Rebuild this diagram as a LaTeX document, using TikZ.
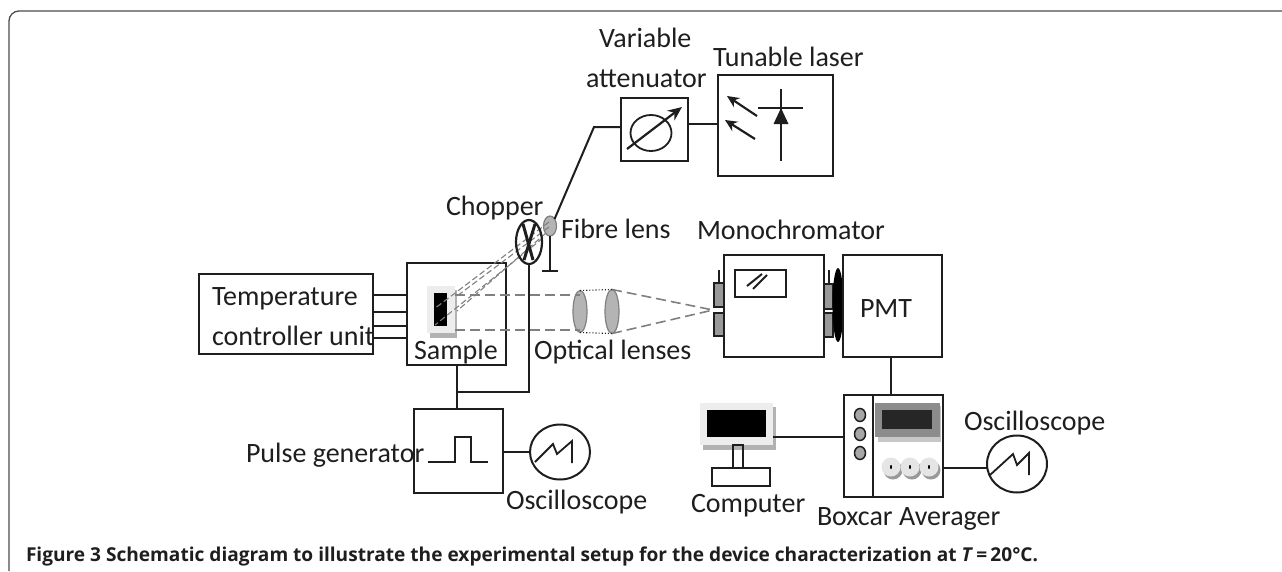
\documentclass[tikz,border=0pt]{standalone}
\usepackage{fontspec}
\setmainfont{Carlito}
\newfontfamily\capfont{Open Sans}
\usetikzlibrary{arrows.meta,shapes.geometric}
\definecolor{ink}{HTML}{1E1E1E}
\definecolor{lensgray}{HTML}{B4B4B4}
\definecolor{dashgray}{HTML}{808080}
\tikzset{
  box/.style={draw=ink,line width=2pt,inner sep=0pt,outer sep=0pt},
  wire/.style={draw=ink,line width=2pt},
  lbl/.style={inner sep=0pt,outer sep=0pt,anchor=base west,text=ink,font=\fontsize{28}{28}\selectfont},
  beam/.style={draw=dashgray,line width=1.6pt,dash pattern=on 10pt off 5pt},
  thinbeam/.style={draw=dashgray,line width=1.1pt,dash pattern=on 6pt off 3pt},
  lens/.style={ellipse,draw=dashgray,fill=lensgray,line width=1.2pt,inner sep=0pt,outer sep=0pt},
  scope circle/.style={ellipse,draw=ink,line width=2pt,inner sep=0pt,outer sep=0pt,minimum width=60pt,minimum height=55pt},
  slit/.style={draw=ink,fill=black!40,line width=1.3pt},
  bigarrow/.style={draw=ink,line width=2.2pt,-{Stealth[length=14pt,width=12pt]}},
  lightarrow/.style={draw=ink,line width=2.2pt,-{Stealth[length=12pt,width=11pt]}},
  thing/.style={inner sep=0pt,outer sep=0pt},
}
\begin{document}
\begin{tikzpicture}[x=1pt,y=-1pt]
\useasboundingbox (0,0) rectangle (1282,571);
% frame
\coordinate (frameA) at (1282,11);
\coordinate (frameB) at (9,11);
\coordinate (frameC) at (9,571);
\draw[draw=ink!80,line width=1.3pt,rounded corners=10pt] (frameA) -- (frameB) -- (frameC);

% main boxes
\node[box,minimum width=174pt,minimum height=80pt] (tc) at (286,314) {};
\node[box,minimum width=99pt,minimum height=102pt] (sample) at (456.5,314) {};
\node[box,minimum width=89pt,minimum height=84pt] (pulse) at (458.5,451) {};
\node[box,minimum width=67pt,minimum height=63pt] (atten) at (654.5,129.5) {};
\node[box,minimum width=115pt,minimum height=101pt] (laser) at (775.5,125.5) {};
\node[box,minimum width=100pt,minimum height=102pt] (mono) at (774,306) {};
\node[box,minimum width=99pt,minimum height=102pt] (pmt) at (892.5,306) {};
\node[box,minimum width=99pt,minimum height=102pt] (boxcar) at (893.5,446) {};

% temperature wires
\foreach \yy in {295,312,326,338}
  \draw[wire] (tc.east |- 0,\yy) -- (sample.west |- 0,\yy);

% sample chip
\fill[black!30] (430,290) rectangle (457,338);
\fill[black!7] (427,286) rectangle (455,333);
\node[thing,fill=black,minimum width=13pt,minimum height=33pt] (chip) at (440.5,309.5) {};

% lenses
\node[lens,minimum width=14pt,minimum height=42pt] (lensA) at (580,311.5) {};
\node[lens,minimum width=14pt,minimum height=44pt] (lensB) at (612,311.5) {};
\node[lens,minimum width=13pt,minimum height=20pt] (fibre) at (550,226) {};

% monochromator and PMT details
\node[box,line width=1.7pt,minimum width=51pt,minimum height=27pt] (window) at (760.5,283.5) {};
\draw[wire] (747,286) -- (762,274);
\draw[wire] (753,289) -- (767,275);
\draw[wire,line width=2.6pt] (719,270) -- (719,283);
\draw[wire,line width=2.6pt] (829,270) -- (829,284);
\draw[slit] (714,283) rectangle (724,307);
\draw[slit] (714,313) rectangle (724,336);
\draw[slit] (824,284) rectangle (833,309);
\draw[slit] (824,313) rectangle (833,337);
\begin{scope}
\clip (825,260) rectangle (843,350);
\fill[black] (838,305) ellipse [x radius=5.5pt,y radius=37pt];
\end{scope}
\node[box,minimum width=100pt,minimum height=102pt] (monoagain) at (774,306) {};
\node[box,minimum width=99pt,minimum height=102pt] (pmtagain) at (892.5,306) {};

% beams
\coordinate (focus) at (713,310);
\draw[beam] (455,295) -- (lensA.north |- 0,295);
\draw[beam] (455,330) -- (lensA.south |- 0,330);
\draw[draw=ink,line width=1.1pt,dotted] (lensA.north) -- (lensB.north);
\draw[draw=ink,line width=1.1pt,dotted] (lensA.south) -- (lensB.south);
\draw[beam] (lensB.north) -- (focus);
\draw[beam] (lensB.south) -- (focus);
\coordinate (chipA) at (434,309);
\coordinate (chipB) at (457,296);
\coordinate (chipC) at (457,311);
\coordinate (chipD) at (435,325);
\coordinate (fanA) at (549,222);
\coordinate (fanB) at (549,227);
\coordinate (fanC) at (546,233);
\coordinate (fanD) at (543,238);
\draw[thinbeam] (fanA) -- (chipA);
\draw[thinbeam] (fanB) -- (chipB);
\draw[thinbeam] (fanC) -- (chipC);
\draw[thinbeam] (fanD) -- (chipD);

% chopper
\node[ellipse,draw=ink,line width=2.2pt,inner sep=0pt,outer sep=0pt,minimum width=26pt,minimum height=44pt] (chopper) at (529,242) {};
\draw[wire,line width=3pt] (523,224) -- (533,260);
\draw[wire,line width=3pt] (535,224) -- (524,260);

% fibre lens mount
\coordinate (mountfoot) at (550,271);
\draw[wire] (fibre.south) -- (mountfoot);
\draw[wire] ([xshift=-8pt]mountfoot) -- ([xshift=8pt]mountfoot);

% connectors
\coordinate (bend) at (594,127);
\draw[wire] (fibre.north east) -- (bend) -- (atten.west |- bend);
\draw[wire] (atten.east |- 0,124) -- (laser.west |- 0,124);
\coordinate (pulsejoin) at (457,392);
\draw[wire] (sample.south -| pulsejoin) -- (pulse.north -| pulsejoin);
\draw[wire] (chopper.south) -- (chopper.south |- pulsejoin) -- (pulsejoin);
\draw[wire] (pmt.south -| 891,0) -- (boxcar.north -| 891,0);

% attenuator symbol
\node[ellipse,draw=ink,line width=1.8pt,inner sep=0pt,outer sep=0pt,minimum width=41pt,minimum height=36pt] (dial) at (651,133) {};
\coordinate (attA) at (627,149);
\coordinate (attB) at (682,107);
\draw[bigarrow] (attA) -- (attB);

% laser symbol
\coordinate (lasA) at (757,116); \coordinate (lasB) at (727,96);
\coordinate (lasC) at (755,139); \coordinate (lasD) at (725,120);
\draw[lightarrow] (lasA) -- (lasB);
\draw[lightarrow] (lasC) -- (lasD);
\coordinate (diodeT) at (781,89); \coordinate (diodeB) at (781,161);
\coordinate (diodeL) at (758,108); \coordinate (diodeR) at (803,108);
\draw[wire,line width=2.2pt] (diodeT) -- (diodeB);
\draw[wire,line width=2.2pt] (diodeL) -- (diodeR);
\fill[ink] (781,108) -- (788.5,124) -- (773.5,124) -- cycle;

% pulse symbol
\draw[wire,line join=miter] (428,462) -- (455,462) -- (455,437) -- (471,437) -- (471,462) -- (488,462);

% oscilloscopes
\node[scope circle] (oscA) at (560,452) {};
\draw[wire] (pulse.east |- oscA) -- (oscA.west);
\draw[wire,line width=1.8pt,line join=miter] (535,462) -- (553,444) -- (557,454) -- (572,441) -- (572,463);
\node[scope circle,minimum height=57pt] (oscB) at (1017,464) {};
\draw[wire] (boxcar.east |- 0,468) -- (oscB.west |- 0,468);
\draw[wire,line width=1.8pt,line join=miter] (990,475) -- (1013,454) -- (1017,465) -- (1029,453) -- (1029,475);

% boxcar details
\draw[wire,line width=1.8pt] (873,395) -- (873,497);
\foreach \yy/\nn in {415/a,434/b,453/c}
  \node[ellipse,draw=ink,fill=black!35,line width=1.5pt,inner sep=0pt,minimum width=11pt,minimum height=13pt] (knob\nn) at (860,\yy) {};
\fill[black!22] (878,406) rectangle (941,442);
\fill[black!45] (875,403) rectangle (940,437);
\fill[black!85] (882,410) rectangle (932,429);
\foreach \xx/\nn in {891/a,910/b,929/c}{
  \fill[black!40] (\xx+2,470) circle (9.5pt);
  \fill[black!10] (\xx,467) circle (9.5pt);
  \fill[black] (\xx,467) ellipse [x radius=1pt,y radius=2pt];
}

% computer
\fill[black!30] (703,407) rectangle (776,450);
\fill[black!7] (700,403) rectangle (773,445);
\node[thing,fill=black,minimum width=59pt,minimum height=27pt] (screen) at (736.5,423.5) {};
\node[box,minimum width=10pt,minimum height=23pt] (stand) at (738,456.5) {};
\node[box,minimum width=58pt,minimum height=18pt] (base) at (741,477) {};
\draw[wire] (773,437) -- (boxcar.west |- 0,437);

% labels
\node[lbl] (tVar) at (599,47) {Variable};
\node[lbl] (tAtt) at (586,87) {attenuator};
\node[lbl] (tLas) at (713,66) {Tunable laser};
\node[lbl] (tCho) at (446,215) {Chopper};
\node[lbl] (tFib) at (561,238) {Fibre lens};
\node[lbl] (tMon) at (697,239) {Monochromator};
\node[lbl] (tTe1) at (212,305) {Temperature};
\node[lbl] (tTe2) at (212,345) {controller unit};
\node[lbl] (tSam) at (414,359) {Sample};
\node[lbl] (tOpt) at (534,359) {Optical lenses};
\node[lbl] (tPul) at (246,462) {Pulse generator};
\node[lbl] (tOsA) at (506,509) {Oscilloscope};
\node[lbl] (tCom) at (691,512) {Computer};
\node[lbl] (tBox) at (817,525) {Boxcar Averager};
\node[lbl] (tOsB) at (964,430) {Oscilloscope};
\node[lbl] (tPMT) at (860,317) {PMT};
\node[inner sep=0pt,outer sep=0pt,anchor=base west,text=ink] (caption) at (26,561)
  {\capfont\fontsize{19.1}{19.1}\selectfont\bfseries Figure 3 Schematic diagram to illustrate the experimental setup for the device characterization at \textit{T}\,=\,20°C.};
\end{tikzpicture}
\end{document}
